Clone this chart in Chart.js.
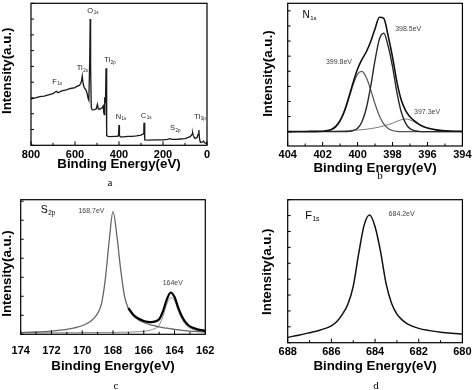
<!DOCTYPE html>
<html>
<head>
<meta charset="utf-8">
<script src="https://cdn.jsdelivr.net/npm/chart.js@4.4.0/dist/chart.umd.min.js"></script>
<style>
  body { margin: 0; background: #fff; }
  #wrap { position: relative; width: 474px; height: 390px; }
  canvas { position: absolute; }
  .cap { position: absolute; font: 11px 'Liberation Serif', 'DejaVu Serif', serif; color: #000; transform: translate(-50%, -50%); }
</style>
</head>
<body>
<div id="wrap">
  <canvas id="chartA" width="237" height="195" style="left:0;top:0"></canvas>
  <canvas id="chartB" width="237" height="195" style="left:237px;top:0"></canvas>
  <canvas id="chartC" width="237" height="195" style="left:0;top:195px"></canvas>
  <canvas id="chartD" width="237" height="195" style="left:237px;top:195px"></canvas>
  <div class="cap" style="left:110px;top:182px">a</div>
  <div class="cap" style="left:380px;top:175px">b</div>
  <div class="cap" style="left:116px;top:385px">c</div>
  <div class="cap" style="left:376px;top:385px">d</div>
</div>
<script>
// (a) survey spectrum
const surveyEnergy = [800, 780, 760, 740, 720, 700, 690, 684, 678, 660,
  640, 620, 600, 590, 580, 575, 570, 567, 563, 558,
  550, 545, 540, 537, 533, 531, 529, 526, 522, 512,
  504, 498, 494, 486, 478, 472, 469, 467, 465, 463,
  461, 459, 457, 455, 450, 440, 420, 405, 402, 400,
  398, 394, 380, 360, 340, 320, 300, 290, 287, 286,
  284, 282, 260, 240, 220, 200, 180, 168, 160, 140,
  120, 100, 85, 75, 68, 65, 62, 55, 45, 40,
  37, 34, 30, 20, 15, 10, 5, 0];
const surveyCounts = [2.95, 3.0, 3.08, 3.12, 3.2, 3.28, 3.38, 3.42, 3.33, 3.45,
  3.52, 3.6, 3.66, 3.75, 3.8, 3.9, 4.1, 4.39, 3.9, 3.65,
  3.5, 3.3, 2.95, 2.85, 5.5, 8.0, 5.0, 2.4, 2.25, 2.26,
  2.3, 2.6, 2.3, 2.3, 2.36, 2.5, 2.05, 1.95, 3.05, 2.7,
  3.1, 4.88, 2.0, 0.62, 0.57, 0.55, 0.56, 0.57, 0.7, 1.29,
  0.62, 0.53, 0.54, 0.56, 0.57, 0.6, 0.65, 0.72, 1.2, 1.43,
  0.9, 0.34, 0.33, 0.34, 0.35, 0.35, 0.37, 0.42, 0.38, 0.38,
  0.4, 0.42, 0.5, 0.56, 0.7, 0.78, 0.6, 0.44, 0.5, 0.7,
  0.97, 0.4, 0.18, 0.22, 0.26, 0.16, 0.12, 0.1];
const surveyTicks = [800, 600, 400, 200, 0];

// (b) N 1s
const nEnergy = [404, 403.5, 403, 402.5, 402, 401.75, 401.5, 401.25, 401, 400.75,
  400.5, 400.25, 400, 399.75, 399.5, 399.25, 399, 398.75, 398.5, 398.25,
  398, 397.75, 397.5, 397.25, 397, 396.75, 396.5, 396.25, 396, 395.5,
  395, 394.5, 394];
const nEnvelope = [0, 0.01, 0.01, 0.02, 0.03, 0.07, 0.15, 0.35, 0.74, 1.39,
  2.29, 3.28, 4.15, 4.78, 5.29, 5.97, 6.82, 7.58, 7.5, 6.34,
  4.94, 3.3, 2.09, 1.39, 0.98, 0.71, 0.5, 0.34, 0.24, 0.12,
  0.06, 0.03, 0.02];
const nPeak3985 = [0, 0, 0, 0, 0, 0, 0, 0, 0, 0,
  0.02, 0.07, 0.23, 0.66, 1.55, 3.0, 4.74, 6.14, 6.52, 5.67,
  4.3, 2.6, 1.3, 0.55, 0.2, 0.07, 0.02, 0, 0, 0,
  0, 0, 0];
const nPeak3998 = [0, 0, 0, 0, 0.01, 0.04, 0.12, 0.31, 0.69, 1.33,
  2.2, 3.12, 3.81, 3.99, 3.58, 2.77, 1.83, 1.04, 0.51, 0.21,
  0.08, 0.02, 0, 0, 0, 0, 0, 0, 0, 0,
  0, 0, 0];
const nPeak3973 = [0, 0.01, 0.01, 0.02, 0.02, 0.03, 0.03, 0.04, 0.05, 0.06,
  0.07, 0.09, 0.11, 0.13, 0.16, 0.2, 0.25, 0.31, 0.38, 0.46,
  0.56, 0.68, 0.79, 0.84, 0.78, 0.64, 0.48, 0.34, 0.24, 0.12,
  0.06, 0.03, 0.02];
const nTicks = [404, 402, 400, 398, 396, 394];

// (c) S 2p
const sEnergy = [174, 173, 172, 171, 170.5, 170, 169.5, 169.25, 169, 168.75,
  168.5, 168.25, 168, 167.75, 167.5, 167.25, 167, 166.75, 166.5, 166,
  165.5, 165, 164.75, 164.5, 164.25, 164, 163.75, 163.5, 163.25, 163,
  162.5, 162];
const sPeak1687 = [0.09, 0.12, 0.17, 0.26, 0.34, 0.45, 0.66, 0.84, 1.1, 1.6,
  2.9, 4.9, 6.45, 5.2, 3.4, 2.0, 1.35, 1.05, 0.85, 0.62,
  0.48, 0.39, 0.35, 0.32, 0.29, 0.26, 0.24, 0.21, 0.19, 0.17,
  0.14, 0.11];
const sPeak164 = [0.08, 0.08, 0.08, 0.08, 0.08, 0.09, 0.09, 0.09, 0.09, 0.1,
  0.1, 0.1, 0.1, 0.1, 0.11, 0.11, 0.11, 0.12, 0.13, 0.16,
  0.24, 0.48, 0.95, 1.6, 1.93, 1.78, 1.22, 0.78, 0.49, 0.33,
  0.2, 0.15];
const sFitEnergy = [167, 166.75, 166.5, 166, 165.75, 165.5, 165.25, 165, 164.75, 164.5,
  164.25, 164, 163.75, 163.5, 163.25, 163, 162.5, 162];
const sFit = [1.38, 1.09, 0.9, 0.7, 0.65, 0.64, 0.68, 0.79, 1.22, 1.84,
  2.2, 1.96, 1.38, 0.91, 0.6, 0.42, 0.26, 0.18];
const sTicks = [174, 172, 170, 168, 166, 164, 162];

// (d) F 1s
const fEnergy = [688, 687.5, 687, 686.5, 686, 685.75, 685.5, 685.25, 685, 684.75,
  684.5, 684.25, 684, 683.75, 683.5, 683.25, 683, 682.75, 682.5, 682,
  681.5, 681, 680.5, 680];
const fCounts = [0.34, 0.47, 0.63, 0.8, 1.06, 1.33, 1.78, 2.4, 3.55, 5.6,
  7.4, 8.03, 7.3, 5.75, 3.75, 2.5, 1.8, 1.42, 1.17, 0.9,
  0.76, 0.66, 0.59, 0.54];
const fTicks = [688, 686, 684, 682, 680];

Chart.defaults.font.family = "'Liberation Sans', Arial, sans-serif";
Chart.defaults.color = '#000';

const pts = (xs, ys) => xs.map((x, i) => ({ x: x, y: ys[i] }));

// box frame, inward ticks, y title and peak labels
const framePlugin = {
  id: 'frame',
  afterDatasetsDraw(chart, args, opts) {
    const { ctx, chartArea: a, scales: { x, y } } = chart;
    ctx.save();
    ctx.strokeStyle = '#000';
    ctx.lineWidth = 1.2;
    ctx.strokeRect(a.left, a.top, a.right - a.left, a.bottom - a.top);
    ctx.lineWidth = 1;
    ctx.beginPath();
    x.ticks.forEach(t => {
      const px = x.getPixelForValue(t.value);
      const len = t.label !== '' ? 4 : 2.5;
      ctx.moveTo(px, a.bottom);
      ctx.lineTo(px, a.bottom - len);
    });
    y.ticks.forEach(t => {
      const py = y.getPixelForValue(t.value);
      ctx.moveTo(a.left, py);
      ctx.lineTo(a.left + 3, py);
    });
    ctx.stroke();

    // rotated y title
    ctx.save();
    ctx.translate(opts.titleX, (a.top + a.bottom) / 2 + opts.titleDy);
    ctx.rotate(-Math.PI / 2);
    ctx.textAlign = 'center';
    ctx.textBaseline = 'middle';
    ctx.fillStyle = '#000';
    ctx.font = "bold 13.3px 'Liberation Sans', Arial, sans-serif";
    ctx.fillText('Intensity(a.u.)', 0, 0);
    ctx.restore();

    ctx.textBaseline = 'middle';
    ctx.textAlign = 'left';
    (opts.notes || []).forEach(n => {
      let px = x.getPixelForValue(n.x);
      const py = y.getPixelForValue(n.y);
      ctx.fillStyle = n.color || '#222';
      ctx.font = n.size + "px 'Liberation Sans', Arial, sans-serif";
      ctx.fillText(n.text, px, py);
      if (n.sub) {
        px += ctx.measureText(n.text).width + 0.5;
        ctx.font = (n.size * 0.6) + "px 'Liberation Sans', Arial, sans-serif";
        ctx.fillText(n.sub, px, py + n.size * 0.32);
      }
    });
    ctx.restore();
  }
};

function makeChart(id, datasets, c) {
  return new Chart(document.getElementById(id), {
    type: 'line',
    data: { datasets: datasets },
    options: {
      responsive: false,
      animation: false,
      layout: { padding: c.pad },
      elements: { point: { radius: 0 } },
      plugins: {
        legend: { display: false },
        tooltip: { enabled: false },
        frame: { notes: c.notes, titleX: c.yTitleX, titleDy: c.yTitleDy }
      },
      scales: {
        x: {
          type: 'linear',
          reverse: true,
          min: c.xMin,
          max: c.xMax,
          grid: { display: false, drawTicks: false },
          border: { display: false },
          ticks: {
            stepSize: c.xStep,
            autoSkip: false,
            maxRotation: 0,
            padding: c.tickPad,
            color: '#000',
            font: { size: 11, weight: 'bold' },
            callback: v => c.xLabels.includes(v) ? String(v) : ''
          },
          title: {
            display: true,
            text: 'Binding Energy(eV)',
            color: '#000',
            font: { size: 13.3, weight: 'bold', lineHeight: 1 },
            padding: { top: 0, bottom: c.xTitlePad }
          },
          afterFit: s => { s.height = c.xHeight; }
        },
        y: {
          min: c.yMin,
          max: c.yMax,
          grid: { display: false, drawTicks: false },
          border: { display: false },
          ticks: { display: false, stepSize: 1, includeBounds: false },
          title: { display: false },
          afterFit: s => { s.width = c.yWidth; }
        }
      }
    },
    plugins: [framePlugin]
  });
}

makeChart('chartA', [{
  data: pts(surveyEnergy, surveyCounts),
  borderColor: '#1a1a1a',
  borderWidth: 1.3,
  tension: 0
}], {
  pad: { left: 0, right: 30, top: 3.3, bottom: 19.7 },
  xMin: 0, xMax: 800, xStep: 100, xLabels: surveyTicks,
  yMin: 0, yMax: 9,
  yWidth: 31, xHeight: 30, tickPad: 3, xTitlePad: 4.65,
  yTitleX: 7.2, yTitleDy: -3.5,
  notes: [
    { text: 'O', sub: '1s', x: 544, y: 8.53, size: 7.5 },
    { text: 'Ti', sub: '2p', x: 467, y: 5.41, size: 7.5 },
    { text: 'Ti', sub: '2s', x: 592, y: 4.88, size: 7.5 },
    { text: 'F', sub: '1s', x: 703, y: 4.03, size: 7.5 },
    { text: 'N', sub: '1s', x: 415, y: 1.81, size: 7.5 },
    { text: 'C', sub: '1s', x: 301, y: 1.88, size: 7.5 },
    { text: 'S', sub: '2p', x: 168, y: 1.08, size: 7.5 },
    { text: 'Ti', sub: '3p', x: 58, y: 1.81, size: 7.5 }
  ]
});

makeChart('chartB', [
  { data: pts(nEnergy, nEnvelope), borderColor: '#111', borderWidth: 1.6, cubicInterpolationMode: 'monotone' },
  { data: pts(nEnergy, nPeak3985), borderColor: '#2a2a2a', borderWidth: 1.4, cubicInterpolationMode: 'monotone' },
  { data: pts(nEnergy, nPeak3998), borderColor: '#555', borderWidth: 1.2, cubicInterpolationMode: 'monotone' },
  { data: pts(nEnergy, nPeak3973), borderColor: '#7a7a7a', borderWidth: 1.0, cubicInterpolationMode: 'monotone' }
], {
  pad: { left: 0, right: 9.7, top: 3.3, bottom: 19 },
  xMin: 394, xMax: 404, xStep: 1, xLabels: nTicks,
  yMin: -0.95, yMax: 8.5,
  yWidth: 50.7, xHeight: 30, tickPad: 2.4, xTitlePad: 1.05,
  yTitleX: 31.3, yTitleDy: -1,
  notes: [
    { text: 'N', sub: '1s', x: 403.15, y: 7.73, size: 10, color: '#000' },
    { text: '399.8eV', x: 401.81, y: 4.6, size: 7, color: '#444' },
    { text: '398.5eV', x: 397.85, y: 6.78, size: 7, color: '#444' },
    { text: '397.3eV', x: 396.77, y: 1.32, size: 7, color: '#444' }
  ]
});

makeChart('chartC', [
  { data: pts(sFitEnergy, sFit), borderColor: '#000', borderWidth: 2.2, cubicInterpolationMode: 'monotone' },
  { data: pts(sEnergy, sPeak1687), borderColor: '#666', borderWidth: 1.3, cubicInterpolationMode: 'monotone' },
  { data: pts(sEnergy, sPeak164), borderColor: '#888', borderWidth: 1.0, cubicInterpolationMode: 'monotone' }
], {
  pad: { left: 0, right: 31.7, top: 4.7, bottom: 15.7 },
  xMin: 162, xMax: 174, xStep: 1, xLabels: sTicks,
  yMin: 0, yMax: 7.08,
  yWidth: 20.7, xHeight: 40, tickPad: 9.8, xTitlePad: 1.65,
  yTitleX: 7.5, yTitleDy: 6.5,
  notes: [
    { text: 'S', sub: '2p', x: 172.7, y: 6.54, size: 10.5, color: '#000' },
    { text: '168.7eV', x: 170.25, y: 6.5, size: 7, color: '#444' },
    { text: '164eV', x: 164.77, y: 2.68, size: 7, color: '#444' }
  ]
});

makeChart('chartD', [
  { data: pts(fEnergy, fCounts), borderColor: '#111', borderWidth: 1.5, cubicInterpolationMode: 'monotone' }
], {
  pad: { left: 0, right: 9.7, top: 4.7, bottom: 17.3 },
  xMin: 680, xMax: 688, xStep: 1, xLabels: fTicks,
  yMin: 0, yMax: 9,
  yWidth: 50.7, xHeight: 30, tickPad: 2.4, xTitlePad: 0,
  yTitleX: 30.7, yTitleDy: 0.5,
  notes: [
    { text: 'F', sub: '1s', x: 687.2, y: 7.99, size: 11, color: '#000' },
    { text: '684.2eV', x: 683.38, y: 8.09, size: 7, color: '#444' }
  ]
});
</script>
</body>
</html>
